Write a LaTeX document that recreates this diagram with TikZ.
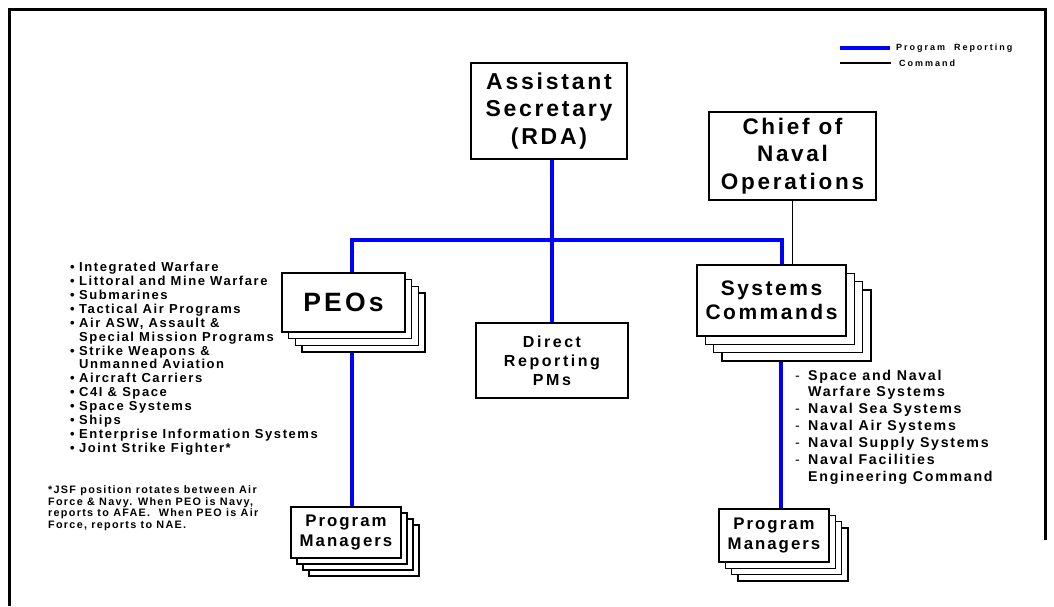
\documentclass[tikz,border=0pt]{standalone}
\usepackage{fontspec}
\setmainfont{Liberation Sans}[LetterSpace=12]
\newfontfamily\legendfont{Liberation Sans}[LetterSpace=22]
\newfontfamily\widefont{Liberation Sans}[LetterSpace=16]
\usetikzlibrary{shadows,calc}
\newcommand\peobul{\makebox[9pt][l]{•}}
\newcommand\peoind{\makebox[9pt][l]{}}
\newcommand\sysdash{\makebox[13pt][l]{\mdseries -}}
\newcommand\sysind{\makebox[13pt][l]{}}
\tikzset{
  topbox/.style={draw, line width=2.5pt, fill=white, align=center, inner sep=0pt,
    font=\bfseries\fontsize{23}{27.5}\selectfont},
  stackbox/.style={draw, line width=1.5pt, fill=white, align=center, inner sep=0pt},
  stackof/.style={
    copy shadow={shadow xshift=3*#1, shadow yshift=-3*#1, draw=black, fill=white, line width=1.5pt},
    copy shadow={shadow xshift=2*#1, shadow yshift=-2*#1, draw=black, fill=white, line width=1.5pt},
    copy shadow={shadow xshift=#1, shadow yshift=-#1, draw=black, fill=white, line width=1.5pt}},
  prog/.style={draw=blue, line width=4.5pt},
  cmd/.style={draw=black, line width=1.5pt},
  listtxt/.style={align=left, inner sep=0pt, font=\bfseries},
}
\begin{document}
\begin{tikzpicture}[x=1pt,y=-1pt]
\useasboundingbox (0,0) rectangle (1054,606);
% frame
\draw[line width=3pt] (9.5,606) -- (9.5,9.5) -- (1045,9.5) -- (1045,540);
% legend
\coordinate (lg1a) at (840,48); \coordinate (lg1b) at (890,48);
\coordinate (lg2a) at (840,63); \coordinate (lg2b) at (891,63);
\draw[prog, line width=4pt] (lg1a) -- (lg1b);
\draw[cmd] (lg2a) -- (lg2b);
\node[anchor=west, inner sep=0pt, font=\legendfont\bfseries\fontsize{9}{10}\selectfont] (lgt1) at (896,48) {Program\ \ Reporting};
\node[anchor=west, inner sep=0pt, font=\legendfont\bfseries\fontsize{9}{10}\selectfont] (lgt2) at (899,63) {Command};
% top boxes
\node[topbox, minimum width=156, minimum height=96] (asst) at (549,111) {Assistant\\Secretary\\(RDA)};
\node[topbox, minimum width=167, minimum height=88, font=\bfseries\fontsize{22.5}{27.5}\selectfont] (cno) at (792.5,156) {Chief of\\Naval\\Operations};
% stacks
\node[stackbox, stackof=6.7pt, minimum width=123, minimum height=59,
  font=\bfseries\fontsize{26.5}{30}\selectfont] (peo) at (343.5,302.5) {PEOs};
\node[stackbox, stackof=8.3pt, minimum width=149, minimum height=71,
  font=\bfseries\fontsize{21}{24}\selectfont] (sys) at (771.5,300.5) {Systems\\Commands};
\node[stackbox, line width=2.5pt, minimum width=152, minimum height=75,
  font=\widefont\bfseries\fontsize{16}{19}\selectfont] (direct) at (552,360.5) {Direct\\Reporting\\PMs};
\node[stackbox, stackof=6pt, minimum width=110, minimum height=51,
  font=\bfseries\fontsize{16.8}{20}\selectfont] (pml) at (346,532.5) {Program\\Managers};
\node[stackbox, stackof=6.3pt, minimum width=110, minimum height=53,
  font=\bfseries\fontsize{16.8}{20}\selectfont] (pmr) at (774,535.5) {Program\\Managers};
% connectors
\coordinate (lc) at (352,240);
\coordinate (rc) at (782,240);
\coordinate (peob) at ($(peo.south)+(0,20)$);
\coordinate (sysb) at ($(sys.south)+(0,25)$);
\draw[prog] (asst.south -| direct.north) -- (direct.north);
\draw[prog] (lc |- peo.north) -- (lc) -- (rc) -- (rc |- sys.north);
\draw[prog] (lc |- peob) -- (lc |- pml.north);
\draw[prog] (781,0 |- sysb) -- (781,0 |- pmr.north);
\draw[cmd] (cno.south) -- (cno.south |- sys.north);
% lists
\node[listtxt, anchor=north west, font=\bfseries\fontsize{13}{13.9}\selectfont] (peolist) at (70,262) {%
\peobul Integrated Warfare\\
\peobul Littoral and Mine Warfare\\
\peobul Submarines\\
\peobul Tactical Air Programs\\
\peobul Air ASW, Assault \&\\
\peoind Special Mission Programs\\
\peobul Strike Weapons \&\\
\peoind Unmanned Aviation\\
\peobul Aircraft Carriers\\
\peobul C4I \& Space\\
\peobul Space Systems\\
\peobul Ships\\
\peobul Enterprise Information Systems\\
\peobul Joint Strike Fighter*};
\node[listtxt, anchor=north west, font=\bfseries\fontsize{14.2}{16.9}\selectfont] (syslist) at (795,369.5) {%
\sysdash Space and Naval\\
\sysind Warfare Systems\\
\sysdash Naval Sea Systems\\
\sysdash Naval Air Systems\\
\sysdash Naval Supply Systems\\
\sysdash Naval Facilities\\
\sysind Engineering Command};
\node[listtxt, anchor=north west, font=\bfseries\fontsize{10.8}{11.5}\selectfont] (note) at (48,485.5) {%
*JSF position rotates between Air\\
Force \& Navy. When PEO is Navy,\\
reports to AFAE.\ \ When PEO is Air\\
Force, reports to NAE.};
\end{tikzpicture}
\end{document}
